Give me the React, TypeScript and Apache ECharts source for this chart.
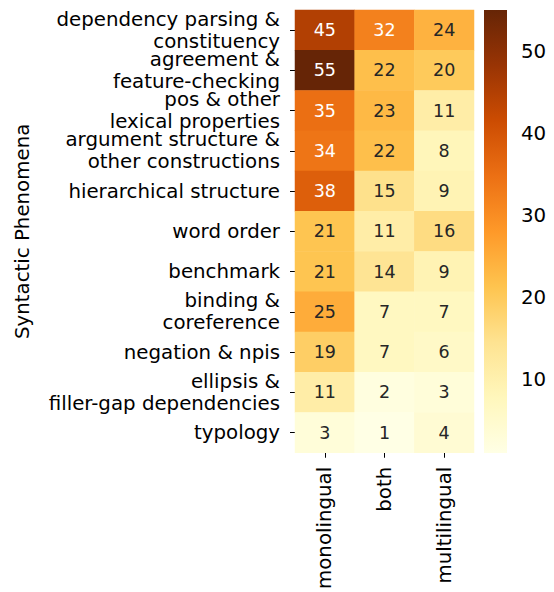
import React, { useEffect, useRef } from "react";
import * as echarts from "echarts";

const rowLabels = [
  "dependency parsing &\nconstituency",
  "agreement &\nfeature-checking",
  "pos & other\nlexical properties",
  "argument structure &\nother constructions",
  "hierarchical structure",
  "word order",
  "benchmark",
  "binding &\ncoreference",
  "negation & npis",
  "ellipsis &\nfiller-gap dependencies",
  "typology",
];
const colLabels = ["monolingual", "both", "multilingual"];
const monolingual = [45, 55, 35, 34, 38, 21, 21, 25, 19, 11, 3];
const both = [32, 22, 23, 22, 15, 11, 14, 7, 7, 2, 1];
const multilingual = [24, 20, 11, 8, 9, 16, 9, 7, 6, 3, 4];
const colorbarTicks = [10, 20, 30, 40, 50];
const vMin = 1;
const vMax = 55;
const yAxisTitle = "Syntactic Phenomena";

const ylOrBr = [
  "#ffffe5",
  "#fff7bc",
  "#fee391",
  "#fec44f",
  "#fe9929",
  "#ec7014",
  "#cc4c02",
  "#993404",
  "#662506",
];

const FONT = "DejaVu Sans";

export default function App() {
  const ref = useRef<HTMLDivElement>(null);
  useEffect(() => {
    if (!ref.current) return;
    const chart = echarts.init(ref.current, null, { renderer: "svg" });
    const cols = [monolingual, both, multilingual];
    const data: any[] = [];
    cols.forEach((col, xi) => {
      col.forEach((v, yi) => {
        data.push({
          value: [xi, yi, v],
          label: { color: v >= 30 ? "#ffffff" : "#262626" },
        });
      });
    });
    const stops = ylOrBr.map((c, i) => ({ offset: i / (ylOrBr.length - 1), color: c }));
    chart.setOption({
      animation: false,
      backgroundColor: "#ffffff",
      textStyle: { fontFamily: FONT },
      grid: [
        { left: 295, top: 10, width: 179, height: 443 },
        { left: 484, top: 10, width: 23, height: 443 },
      ],
      xAxis: [
        {
          type: "category",
          gridIndex: 0,
          data: colLabels,
          axisLine: { show: false },
          axisTick: { show: true, alignWithLabel: true, length: 5, lineStyle: { color: "#000", width: 1 } },
          axisLabel: { rotate: 90, interval: 0, fontSize: 19.8, color: "#000", margin: 14, fontFamily: FONT },
          splitLine: { show: false },
        },
        {
          type: "value",
          gridIndex: 1,
          min: 0,
          max: 1,
          show: false,
        },
      ],
      yAxis: [
        {
          type: "category",
          gridIndex: 0,
          inverse: true,
          data: rowLabels,
          name: yAxisTitle,
          nameLocation: "middle",
          nameRotate: 90,
          nameGap: 263,
          nameTextStyle: { fontSize: 19.8, color: "#000", fontFamily: FONT },
          axisLine: { show: false },
          axisTick: { show: true, alignWithLabel: true, length: 5, lineStyle: { color: "#000", width: 1 } },
          axisLabel: {
            interval: 0,
            hideOverlap: false,
            fontSize: 19.8,
            color: "#000",
            margin: 15,
            lineHeight: 22,
            fontFamily: FONT,
          },
          splitLine: { show: false },
        },
        {
          type: "value",
          gridIndex: 1,
          min: vMin,
          max: vMax,
          position: "right",
          axisLine: { show: false },
          axisTick: {
            show: true,
            length: 5,
            customValues: colorbarTicks,
            lineStyle: { color: "#000", width: 1 },
          },
          axisLabel: {
            fontSize: 19.8,
            color: "#000",
            margin: 14,
            customValues: colorbarTicks,
            fontFamily: FONT,
          },
          splitLine: { show: false },
        },
      ],
      visualMap: {
        show: false,
        min: vMin,
        max: vMax,
        seriesIndex: 0,
        dimension: 2,
        inRange: { color: ylOrBr },
      },
      series: [
        {
          type: "heatmap",
          xAxisIndex: 0,
          yAxisIndex: 0,
          data,
          label: {
            show: true,
            fontSize: 17.5,
            fontFamily: FONT,
            formatter: (p: any) => String(p.value[2]),
          },
          itemStyle: { borderWidth: 0 },
          emphasis: { disabled: true },
        },
        {
          type: "custom",
          xAxisIndex: 1,
          yAxisIndex: 1,
          data: [[0, vMin, vMax]],
          renderItem: (params: any, api: any) => {
            const p0 = api.coord([0, api.value(1)]);
            const p1 = api.coord([1, api.value(2)]);
            return {
              type: "rect",
              shape: { x: p0[0], y: p1[1], width: p1[0] - p0[0], height: p0[1] - p1[1] },
              style: {
                fill: { type: "linear", x: 0, y: 1, x2: 0, y2: 0, colorStops: stops },
              },
            };
          },
        },
      ],
    });
    return () => chart.dispose();
  }, []);
  return (
    <div
      ref={ref}
      style={{ position: "fixed", left: 0, top: 0, width: 554, height: 592 }}
    />
  );
}
